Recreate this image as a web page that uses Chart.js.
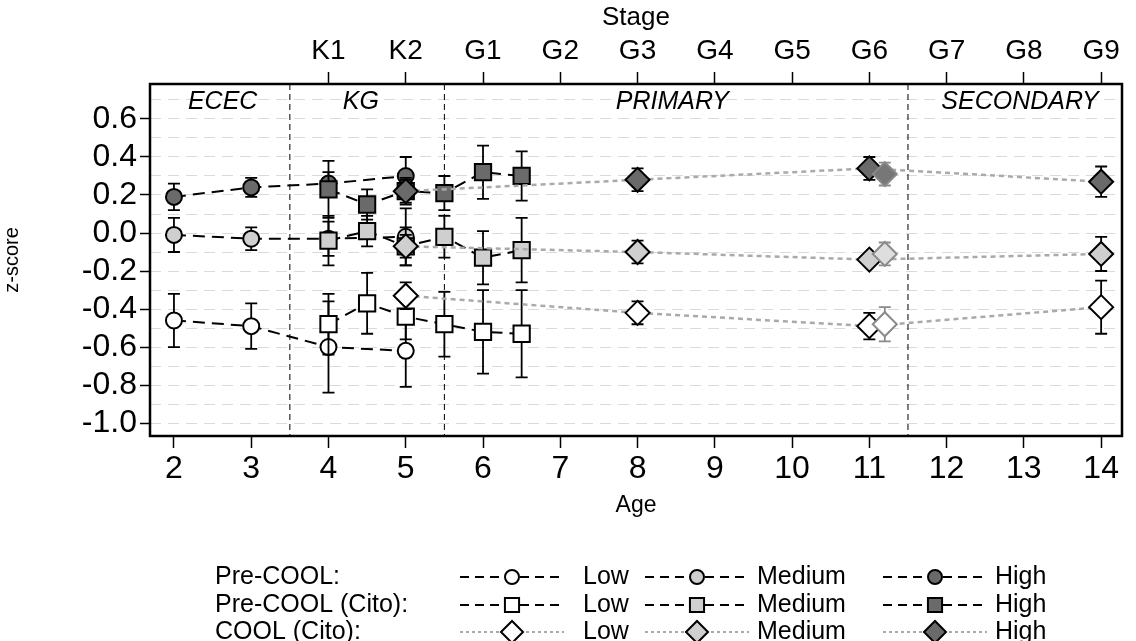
<!DOCTYPE html>
<html>
<head>
<meta charset="utf-8">
<script src="https://cdn.jsdelivr.net/npm/chart.js@4.4.0/dist/chart.umd.min.js"></script>
<style>
  body { margin: 0; background: #fff; }
  canvas { display: block; }
</style>
</head>
<body>
<canvas id="chart" width="1136" height="641"></canvas>
<script>
// values (z-scores, +/- error)
const preCoolAges = [2, 3, 4, 5];
const preCoolLow = [-0.46, -0.49, -0.60, -0.62];
const preCoolLowErr = [0.14, 0.12, 0.24, 0.19];
const preCoolMed = [-0.01, -0.03, -0.03, -0.02];
const preCoolMedErr = [0.09, 0.06, 0.09, 0.15];
const preCoolHigh = [0.19, 0.24, 0.26, 0.30];
const preCoolHighErr = [0.07, 0.05, 0.06, 0.10];

const citoAges = [4, 4.5, 5, 5.5, 6, 6.5];
const citoLow = [-0.48, -0.37, -0.44, -0.48, -0.52, -0.53];
const citoLowErr = [0.16, 0.16, 0.12, 0.17, 0.22, 0.23];
const citoMed = [-0.04, 0.01, -0.07, -0.02, -0.13, -0.09];
const citoMedErr = [0.13, 0.08, 0.10, 0.11, 0.14, 0.17];
const citoHigh = [0.23, 0.15, 0.22, 0.21, 0.32, 0.30];
const citoHighErr = [0.15, 0.08, 0.07, 0.09, 0.14, 0.13];

const coolAges = [5, 8, 11, 14];
const coolLow = [-0.33, -0.42, -0.49, -0.39];
const coolLowErr = [0.07, 0.06, 0.07, 0.14];
const coolMed = [-0.07, -0.10, -0.14, -0.11];
const coolMedErr = [0.06, 0.06, 0.03, 0.09];
const coolHigh = [0.22, 0.28, 0.34, 0.27];
const coolHighErr = [0.06, 0.06, 0.06, 0.08];

// second G6 measurement (grey outline, no line)
const coolBAges = [11.2];
const coolBLow = [-0.48];
const coolBLowErr = [0.09];
const coolBMed = [-0.11];
const coolBMedErr = [0.06];
const coolBHigh = [0.31];
const coolBHighErr = [0.06];

const ageTicks = [2, 3, 4, 5, 6, 7, 8, 9, 10, 11, 12, 13, 14];
const stageAges = [4, 5, 6, 7, 8, 9, 10, 11, 12, 13, 14];
const stageLabels = ['K1', 'K2', 'G1', 'G2', 'G3', 'G4', 'G5', 'G6', 'G7', 'G8', 'G9'];
const yGrid = [-1.0, -0.9, -0.8, -0.7, -0.6, -0.5, -0.4, -0.3, -0.2, -0.1, 0.0, 0.1, 0.2, 0.3, 0.4, 0.5, 0.6, 0.7];

const dividers = [3.5, 5.5, 11.5];
const regionLabels = ['ECEC', 'KG', 'PRIMARY', 'SECONDARY'];
const regionAt = [2.63, 4.42, 8.45, 12.95];

const legendRows = ['Pre-COOL:', 'Pre-COOL (Cito):', 'COOL (Cito):'];
const legendLevels = ['Low', 'Medium', 'High'];

const FONT = "'Liberation Sans', Arial, sans-serif";
const fills = ['#ffffff', '#cfcfcf', '#6a6a6a'];

function series(label, ages, vals, errs, style) {
  return Object.assign({
    label: label,
    data: ages.map((a, i) => ({x: a, y: vals[i]})),
    errors: errs
  }, style);
}

const circleStyle = {borderColor: '#000', borderWidth: 2, borderDash: [12, 7],
  pointStyle: 'circle', pointRadius: 8, pointBorderColor: '#000', pointBorderWidth: 2, order: 3};
const squareStyle = {borderColor: '#000', borderWidth: 2, borderDash: [12, 7],
  pointStyle: 'rect', pointRadius: 11.5, pointBorderColor: '#000', pointBorderWidth: 2, order: 2};
const diamondStyle = {borderColor: '#aaaaaa', borderWidth: 2.5, borderDash: [5, 4],
  pointStyle: 'rectRot', pointRadius: 12, pointBorderColor: '#000', pointBorderWidth: 2, order: 1};
const diamondBStyle = {showLine: false, pointStyle: 'rectRot', pointRadius: 12,
  pointBorderColor: '#8a8a8a', pointBorderWidth: 2, errorColor: '#8a8a8a', order: 0, noLegend: true};

const datasets = [
  series('Pre-COOL Low', preCoolAges, preCoolLow, preCoolLowErr, Object.assign({pointBackgroundColor: fills[0], row: 0, col: 0}, circleStyle)),
  series('Pre-COOL Medium', preCoolAges, preCoolMed, preCoolMedErr, Object.assign({pointBackgroundColor: fills[1], row: 0, col: 1}, circleStyle)),
  series('Pre-COOL High', preCoolAges, preCoolHigh, preCoolHighErr, Object.assign({pointBackgroundColor: fills[2], row: 0, col: 2}, circleStyle)),
  series('Pre-COOL (Cito) Low', citoAges, citoLow, citoLowErr, Object.assign({pointBackgroundColor: fills[0], row: 1, col: 0}, squareStyle)),
  series('Pre-COOL (Cito) Medium', citoAges, citoMed, citoMedErr, Object.assign({pointBackgroundColor: fills[1], row: 1, col: 1}, squareStyle)),
  series('Pre-COOL (Cito) High', citoAges, citoHigh, citoHighErr, Object.assign({pointBackgroundColor: fills[2], row: 1, col: 2}, squareStyle)),
  series('COOL (Cito) Low', coolAges, coolLow, coolLowErr, Object.assign({pointBackgroundColor: fills[0], row: 2, col: 0}, diamondStyle)),
  series('COOL (Cito) Medium', coolAges, coolMed, coolMedErr, Object.assign({pointBackgroundColor: fills[1], row: 2, col: 1}, diamondStyle)),
  series('COOL (Cito) High', coolAges, coolHigh, coolHighErr, Object.assign({pointBackgroundColor: fills[2], row: 2, col: 2}, diamondStyle)),
  series('COOL (Cito) Low b', coolBAges, coolBLow, coolBLowErr, Object.assign({pointBackgroundColor: '#ffffff'}, diamondBStyle)),
  series('COOL (Cito) Medium b', coolBAges, coolBMed, coolBMedErr, Object.assign({pointBackgroundColor: '#dedede'}, diamondBStyle)),
  series('COOL (Cito) High b', coolBAges, coolBHigh, coolBHighErr, Object.assign({pointBackgroundColor: '#777777'}, diamondBStyle))
];

// error bars drawn just before each dataset so markers sit on top
const errorBars = {
  id: 'errorBars',
  beforeDatasetDraw(chart, args) {
    const ds = chart.data.datasets[args.index];
    if (!ds.errors) return;
    const ys = chart.scales.y;
    const ctx = chart.ctx;
    ctx.save();
    ctx.strokeStyle = ds.errorColor || '#000';
    ctx.lineWidth = 1.8;
    ctx.setLineDash([]);
    args.meta.data.forEach((pt, i) => {
      const v = ds.data[i].y, e = ds.errors[i];
      const t = ys.getPixelForValue(v + e), b = ys.getPixelForValue(v - e);
      ctx.beginPath();
      ctx.moveTo(pt.x, t); ctx.lineTo(pt.x, b);
      ctx.moveTo(pt.x - 6, t); ctx.lineTo(pt.x + 6, t);
      ctx.moveTo(pt.x - 6, b); ctx.lineTo(pt.x + 6, b);
      ctx.stroke();
    });
    ctx.restore();
  }
};

const regions = {
  id: 'regions',
  beforeDatasetsDraw(chart) {
    const {ctx, chartArea, scales} = chart;
    ctx.save();
    ctx.strokeStyle = '#000';
    ctx.lineWidth = 1;
    ctx.setLineDash([6, 4]);
    dividers.forEach(d => {
      const x = scales.x.getPixelForValue(d);
      ctx.beginPath();
      ctx.moveTo(x, chartArea.top); ctx.lineTo(x, chartArea.bottom);
      ctx.stroke();
    });
    ctx.fillStyle = '#000';
    ctx.font = 'italic 25px ' + FONT;
    ctx.textAlign = 'center';
    ctx.textBaseline = 'middle';
    regionLabels.forEach((r, i) => {
      ctx.fillText(r, scales.x.getPixelForValue(regionAt[i]), chartArea.top + 18);
    });
    ctx.restore();
  },
  afterDatasetsDraw(chart) {
    const {ctx, chartArea} = chart;
    ctx.save();
    ctx.strokeStyle = '#000';
    ctx.lineWidth = 2.5;
    ctx.strokeRect(chartArea.left, chartArea.top, chartArea.right - chartArea.left, chartArea.bottom - chartArea.top);
    ctx.restore();
  }
};

const gridLegend = {
  id: 'gridLegend',
  afterDraw(chart) {
    const ctx = chart.ctx;
    const rowY = [577, 605, 632];
    const sampleX = [512, 697, 935];
    const textX = [583, 757, 995];
    ctx.save();
    ctx.font = '25px ' + FONT;
    ctx.fillStyle = '#000';
    ctx.textBaseline = 'middle';
    legendRows.forEach((r, i) => ctx.fillText(r, 215, rowY[i]));
    chart.data.datasets.forEach(ds => {
      if (ds.noLegend) return;
      const y = rowY[ds.row], cx = sampleX[ds.col];
      ctx.save();
      ctx.strokeStyle = ds.borderColor;
      ctx.lineWidth = 2;
      ctx.setLineDash(ds.row < 2 ? [9, 6] : [3, 3]);
      ctx.beginPath();
      ctx.moveTo(cx - 52, y); ctx.lineTo(cx + 52, y);
      ctx.stroke();
      ctx.setLineDash([]);
      ctx.fillStyle = ds.pointBackgroundColor;
      ctx.strokeStyle = ds.pointBorderColor;
      ctx.lineWidth = 2;
      const rad = ds.pointStyle === 'circle' ? 7 : (ds.pointStyle === 'rect' ? 10 : 11);
      Chart.helpers.drawPoint(ctx, {pointStyle: ds.pointStyle, radius: rad, rotation: 0, borderWidth: 2}, cx, y);
      ctx.restore();
      ctx.fillStyle = '#000';
      ctx.fillText(legendLevels[ds.col], textX[ds.col], y);
    });
    ctx.restore();
  }
};

const labelled = v => Math.round(v * 10) % 2 === 0;

new Chart(document.getElementById('chart'), {
  type: 'line',
  data: {datasets: datasets},
  plugins: [errorBars, regions, gridLegend],
  options: {
    responsive: false,
    animation: false,
    devicePixelRatio: 1,
    layout: {padding: {left: 0, right: 14, top: 0, bottom: 121}},
    plugins: {legend: {display: false}, tooltip: {enabled: false}},
    scales: {
      x: {
        type: 'linear', position: 'bottom', min: 1.69, max: 14.27,
        afterBuildTicks: s => { s.ticks = ageTicks.map(v => ({value: v})); },
        afterFit: s => { s.height = 84; },
        ticks: {color: '#000', font: {size: 32, family: FONT}, padding: 2, maxRotation: 0, autoSkip: false,
          callback: v => String(v)},
        grid: {drawOnChartArea: false, tickLength: 12, tickColor: '#000', tickWidth: 1.5},
        border: {display: false},
        title: {display: true, text: 'Age', color: '#000', font: {size: 23, family: FONT}, padding: {top: 0, bottom: 1}}
      },
      xTop: {
        type: 'linear', position: 'top', min: 1.69, max: 14.27,
        afterBuildTicks: s => { s.ticks = stageAges.map(v => ({value: v})); },
        afterFit: s => { s.height = 84; },
        ticks: {color: '#000', font: {size: 28, family: FONT}, padding: 4, maxRotation: 0, autoSkip: false,
          callback: v => stageLabels[stageAges.indexOf(v)]},
        grid: {drawOnChartArea: false, tickLength: 12, tickColor: '#000', tickWidth: 1.5},
        border: {display: false},
        title: {display: true, text: 'Stage', color: '#000', font: {size: 26, family: FONT}, padding: {top: 2, bottom: 0}}
      },
      y: {
        type: 'linear', min: -1.068, max: 0.784,
        afterBuildTicks: s => { s.ticks = yGrid.map(v => ({value: v})); },
        afterFit: s => { s.width = 150; },
        ticks: {color: '#000', font: {size: 32, family: FONT}, padding: 3, autoSkip: false,
          callback: v => labelled(v) ? v.toFixed(1) : ''},
        grid: {color: '#dadada', lineWidth: 1, tickLength: 10, tickWidth: 1.5, tickBorderDash: [],
          tickColor: c => labelled(c.tick.value) ? '#000' : 'rgba(0,0,0,0)'},
        border: {display: false, dash: [11, 7]},
        title: {display: true, text: 'z-score', color: '#000', font: {size: 20, family: FONT}, padding: {top: 0, bottom: 0}}
      }
    }
  }
});
</script>
</body>
</html>
